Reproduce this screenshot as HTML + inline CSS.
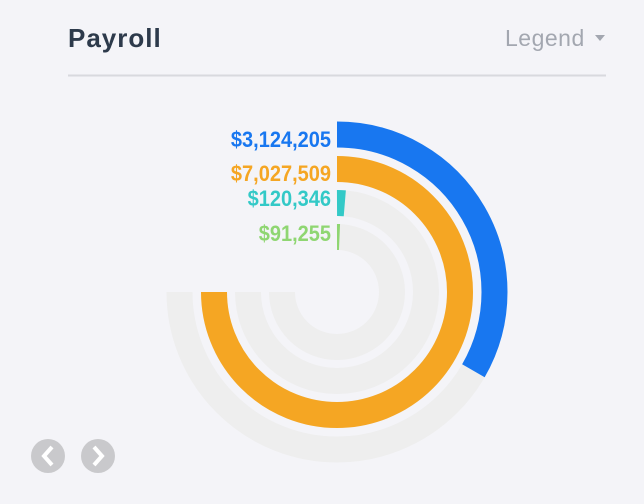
<!DOCTYPE html>
<html><head><style>
body{margin:0;width:644px;height:504px;background:#f4f4f8;font-family:"Liberation Sans",sans-serif;overflow:hidden;position:relative}
</style></head><body>
<svg width="644" height="504" style="position:absolute;left:0;top:0">
<text x="68" y="47" font-size="26" font-weight="bold" fill="#2d3a4b" letter-spacing="1">Payroll</text>
<text x="505" y="46" font-size="23" fill="#a3a7b0" letter-spacing="0.5">Legend</text>
<path d="M595 35 L605 35 L600 41 Z" fill="#a3a7b0"/>
<line x1="68" y1="75.5" x2="606" y2="75.5" stroke="#d8d9de" stroke-width="2"/>
<g fill="none" stroke-width="26">
<path d="M337 134.5 A157.5 157.5 0 1 1 179.5 292" stroke="#eeeeee"/>
<path d="M337 169 A123 123 0 1 1 214 292" stroke="#eeeeee"/>
<path d="M337 203 A89 89 0 1 1 248 292" stroke="#eeeeee"/>
<path d="M337 237 A55 55 0 1 1 282 292" stroke="#eeeeee"/>
<path d="M337 134.5 A157.5 157.5 0 0 1 473.4 370.75" stroke="#1877f0"/>
<path d="M337 169 A123 123 0 1 1 214 292" stroke="#f5a623"/>
<path d="M337 203 A89 89 0 0 1 344.8 203.3" stroke="#33c9c7"/>
<path d="M337 237 A55 55 0 0 1 339.5 237.05" stroke="#8fd672"/>
</g>
<g font-size="20" font-weight="bold" text-anchor="end" transform="translate(0,0)">
<text x="331" y="147" fill="#1877f0" transform="translate(331,147) scale(1,1.1) translate(-331,-147)">$3,124,205</text>
<text x="331" y="181" fill="#f5a623" transform="translate(331,181) scale(1,1.1) translate(-331,-181)">$7,027,509</text>
<text x="331" y="206" fill="#33c9c7" transform="translate(331,206) scale(1,1.1) translate(-331,-206)">$120,346</text>
<text x="331" y="241" fill="#8fd672" transform="translate(331,241) scale(1,1.1) translate(-331,-241)">$91,255</text>
</g>
<circle cx="48" cy="456" r="17" fill="#c9c9cc"/>
<path d="M52 447 L44 456 L52 465" stroke="#fff" stroke-width="4" fill="none"/>
<circle cx="98" cy="456" r="17" fill="#c9c9cc"/>
<path d="M94 447 L102 456 L94 465" stroke="#fff" stroke-width="4" fill="none"/>
</svg>
</body></html>
